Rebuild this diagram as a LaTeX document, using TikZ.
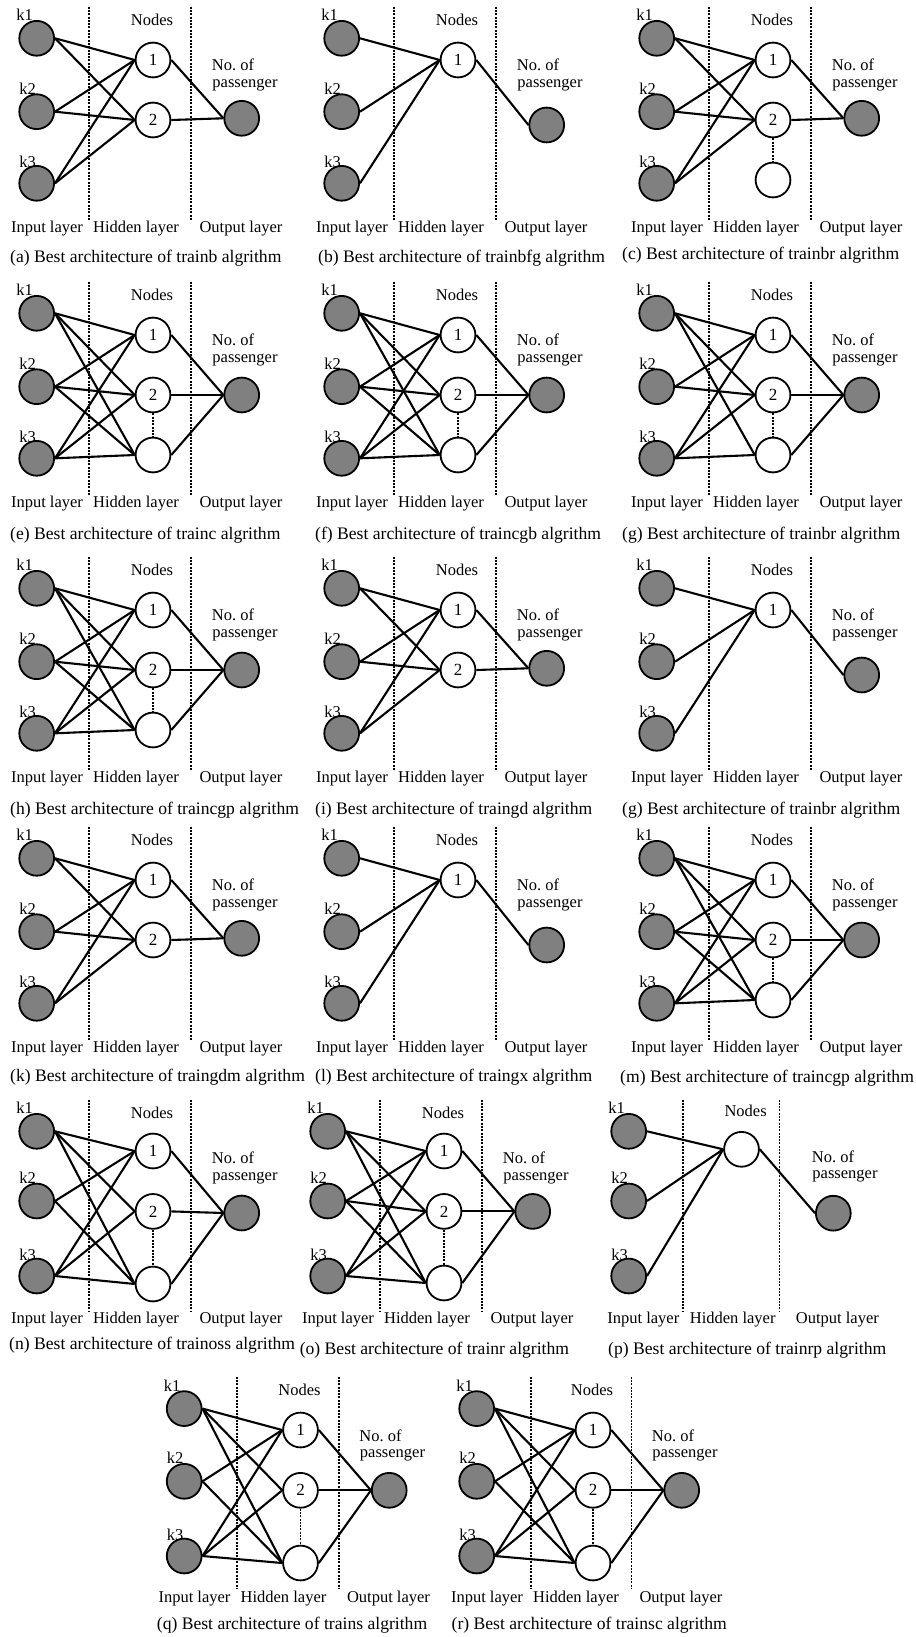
\documentclass[tikz,border=0pt]{standalone}
\usepackage{fontspec}
\setmainfont{Liberation Serif}
\definecolor{nodegray}{RGB}{128,128,128}
\tikzset{
  neuron/.style={circle,draw=black,line width=1.8pt,minimum size=34.8pt,inner sep=0pt},
  inp/.style={neuron,fill=nodegray},
  hid/.style={neuron,fill=white,font=\fontsize{17}{17}\selectfont},
  lbl/.style={inner sep=0pt,font=\fontsize{16.5}{16.5}\selectfont},
  captxt/.style={inner sep=0pt,anchor=west,font=\fontsize{17.6}{17.6}\selectfont},
  conn/.style={line width=2.1pt},
  sepline/.style={line width=1.7pt,dash pattern=on 2pt off 1.3pt},
}
\newcommand\fullconn{1/1,1/2,1/3,2/1,2/2,2/3,3/1,3/2,3/3}
\newcommand\partconn{1/1,1/2,1/3,2/1,2/3,3/1,3/2,3/3}
\newcommand\conns[2]{\foreach \a/\b in #2 {\draw[conn] (#1k\a.east) -- (#1h\b.west);}}
\newcommand\outs[2]{\foreach \b in #2 {\draw[conn] (#1h\b.east) -- (#1o.west);}}
\newcommand\inputsat[4]{%
  \node[inp] (#1k1) at (36.7,#2) {};
  \node[inp] (#1k2) at (36.7,#3) {};
  \node[inp] (#1k3) at (36.7,#4) {};
  \node[lbl] (#1l1) at ([xshift=-12pt,yshift=23.3pt]#1k1.center) {k1};
  \node[lbl] (#1l2) at ([xshift=-9pt,yshift=23.4pt]#1k2.center) {k2};
  \node[lbl] (#1l3) at ([xshift=-9pt,yshift=21.6pt]#1k3.center) {k3};
}
\newcommand\seps[4]{%
  \draw[sepline] (#1,#3) -- (#1,#4);
  \draw[sepline] (#2,#3) -- (#2,#4);
}
\newcommand\stdtext[2]{%
  \node[lbl] (#1nd) at (152,20) {Nodes};
  \node[lbl] (#1no) at (233,65) {No.\ of};
  \node[lbl] (#1ps) at (245,85) {passenger};
  \node[lbl] (#1il) at (47,#2) {Input layer};
  \node[lbl] (#1hl) at (136,#2) {Hidden layer};
  \node[lbl] (#1ol) at (241,#2) {Output layer};
}
\newcommand\stdframe[1]{\inputsat{#1}{38.3}{111.7}{183.3}\seps{89.3}{190.7}{6.7}{220}\stdtext{#1}{229}}
\newcommand\twohid[1]{%
  \node[hid] (#1h1) at (153,60) {1};
  \node[hid] (#1h2) at (153,120) {2};
  \node[inp] (#1o) at (241.7,118.3) {};
  \conns{#1}{{1/1,1/2,2/1,2/2,3/1,3/2}}
  \outs{#1}{{1,2}}%
}
\newcommand\onehid[1]{%
  \node[hid] (#1h1) at (153,60) {1};
  \node[inp] (#1o) at (241.7,125) {};
  \conns{#1}{{1/1,2/1,3/1}}
  \outs{#1}{{1}}%
}
\newcommand\threehidat[6]{%
  \node[hid] (#1h1) at (153,#2) {1};
  \node[hid] (#1h2) at (153,#3) {2};
  \node[hid] (#1h3) at (153,#4) {};
  \draw[sepline] (#1h2.south) -- (#1h3.north);
  \node[inp] (#1o) at (241.7,#5) {};
  \conns{#1}{#6}
  \outs{#1}{{1,2,3}}%
}
\newcommand\threehid[2]{\threehidat{#1}{60}{120}{180}{120}{#2}}
\newcommand\capt[4]{\node[captxt] (#1cap) at (#2,#3) {#4};}
\begin{document}
\begin{tikzpicture}[x=1pt,y=-1pt]
\useasboundingbox (0,0) rectangle (915,1637);
% (a)
\begin{scope}[shift={(0,0)}]
  \stdframe{a}\twohid{a}
  \capt{a}{10}{258}{(a) Best architecture of trainb algrithm}
\end{scope}
% (b)
\begin{scope}[shift={(305,0)}]
  \stdframe{b}\onehid{b}
  \capt{b}{13}{258}{(b) Best architecture of trainbfg algrithm}
\end{scope}
% (c)
\begin{scope}[shift={(620,0)}]
  \stdframe{c}\twohid{c}
  \node[hid] (ch3) at (153,180) {};
  \draw[sepline] (ch2.south) -- (ch3.north);
  \capt{c}{2}{255}{(c) Best architecture of trainbr algrithm}
\end{scope}
% (e)
\begin{scope}[shift={(0,275)}]
  \stdframe{e}\threehid{e}{\fullconn}
  \capt{e}{10}{260}{(e) Best architecture of trainc algrithm}
\end{scope}
% (f)
\begin{scope}[shift={(305,275)}]
  \stdframe{f}\threehid{f}{\fullconn}
  \capt{f}{10}{260}{(f) Best architecture of traincgb algrithm}
\end{scope}
% (g)
\begin{scope}[shift={(620,275)}]
  \stdframe{g}\threehid{g}{{1/1,1/2,1/3,2/1,2/2,3/1,3/2,3/3}}
  \capt{g}{2}{260}{(g) Best architecture of trainbr algrithm}
\end{scope}
% (h)
\begin{scope}[shift={(0,550)}]
  \stdframe{h}\threehid{h}{\fullconn}
  \capt{h}{10}{260}{(h) Best architecture of traincgp algrithm}
\end{scope}
% (i)
\begin{scope}[shift={(305,550)}]
  \stdframe{i}\twohid{i}
  \capt{i}{10}{260}{(i) Best architecture of traingd algrithm}
\end{scope}
% (g) second
\begin{scope}[shift={(620,550)}]
  \stdframe{j}\onehid{j}
  \capt{j}{2}{260}{(g) Best architecture of trainbr algrithm}
\end{scope}
% (k)
\begin{scope}[shift={(0,820)}]
  \stdframe{k}\twohid{k}
  \capt{k}{10}{257}{(k) Best architecture of traingdm algrithm}
\end{scope}
% (l)
\begin{scope}[shift={(305,820)}]
  \stdframe{l}\onehid{l}
  \capt{l}{10}{257}{(l) Best architecture of traingx algrithm}
\end{scope}
% (m)
\begin{scope}[shift={(620,820)}]
  \stdframe{m}\threehid{m}{\fullconn}
  \capt{m}{0}{258}{(m) Best architecture of traincgp algrithm}
\end{scope}
% (n)
\begin{scope}[shift={(0,1093)}]
  \inputsat{n}{38.3}{108}{183}
  \seps{89.3}{191}{6.5}{218}
  \stdtext{n}{227}
  \threehidat{n}{58}{118.4}{191}{120}{\partconn}
  \capt{n}{9}{252}{(n) Best architecture of trainoss algrithm}
\end{scope}
% (o)
\begin{scope}[shift={(291,1093)}]
  \inputsat{o}{38.3}{108}{183}
  \seps{89.3}{191}{6.5}{218}
  \stdtext{o}{227}
  \threehidat{o}{58}{118.4}{190}{118.4}{\fullconn}
  \capt{o}{8.6}{257}{(o) Best architecture of trainr algrithm}
\end{scope}
% (p)
\begin{scope}[shift={(592,1093)}]
  \inputsat{p}{38.3}{108}{183}
  \seps{91}{187.5}{6.5}{218}
  \node[lbl] (pnd) at (153.6,18.3) {Nodes};
  \node[lbl] (pno) at (241,63.4) {No.\ of};
  \node[lbl] (pps) at (253,83) {passenger};
  \node[lbl] (pil) at (51.3,227) {Input layer};
  \node[lbl] (phl) at (140.7,227) {Hidden layer};
  \node[lbl] (pol) at (245.4,227) {Output layer};
  \node[hid] (ph1) at (149.5,56.3) {};
  \node[inp] (po) at (241.3,120.2) {};
  \conns{p}{{1/1,2/1,3/1}}
  \outs{p}{{1}}
  \capt{p}{16}{257}{(p) Best architecture of trainrp algrithm}
\end{scope}
% (q)
\begin{scope}[shift={(147.5,1370.3)}]
  \inputsat{q}{38.3}{111}{185.7}
  \seps{89.3}{191.7}{6.3}{217.7}
  \stdtext{q}{228.4}
  \threehidat{q}{59.7}{120}{192.7}{120}{\partconn}
  \capt{q}{9.2}{255}{(q) Best architecture of trains algrithm}
\end{scope}
% (r)
\begin{scope}[shift={(440,1370.3)}]
  \inputsat{r}{38.3}{111}{185.7}
  \seps{91}{191.6}{6.3}{217.7}
  \stdtext{r}{228.4}
  \threehidat{r}{59.7}{120}{192.7}{120}{\partconn}
  \capt{r}{11.5}{255}{(r) Best architecture of trainsc algrithm}
\end{scope}
\end{tikzpicture}
\end{document}
